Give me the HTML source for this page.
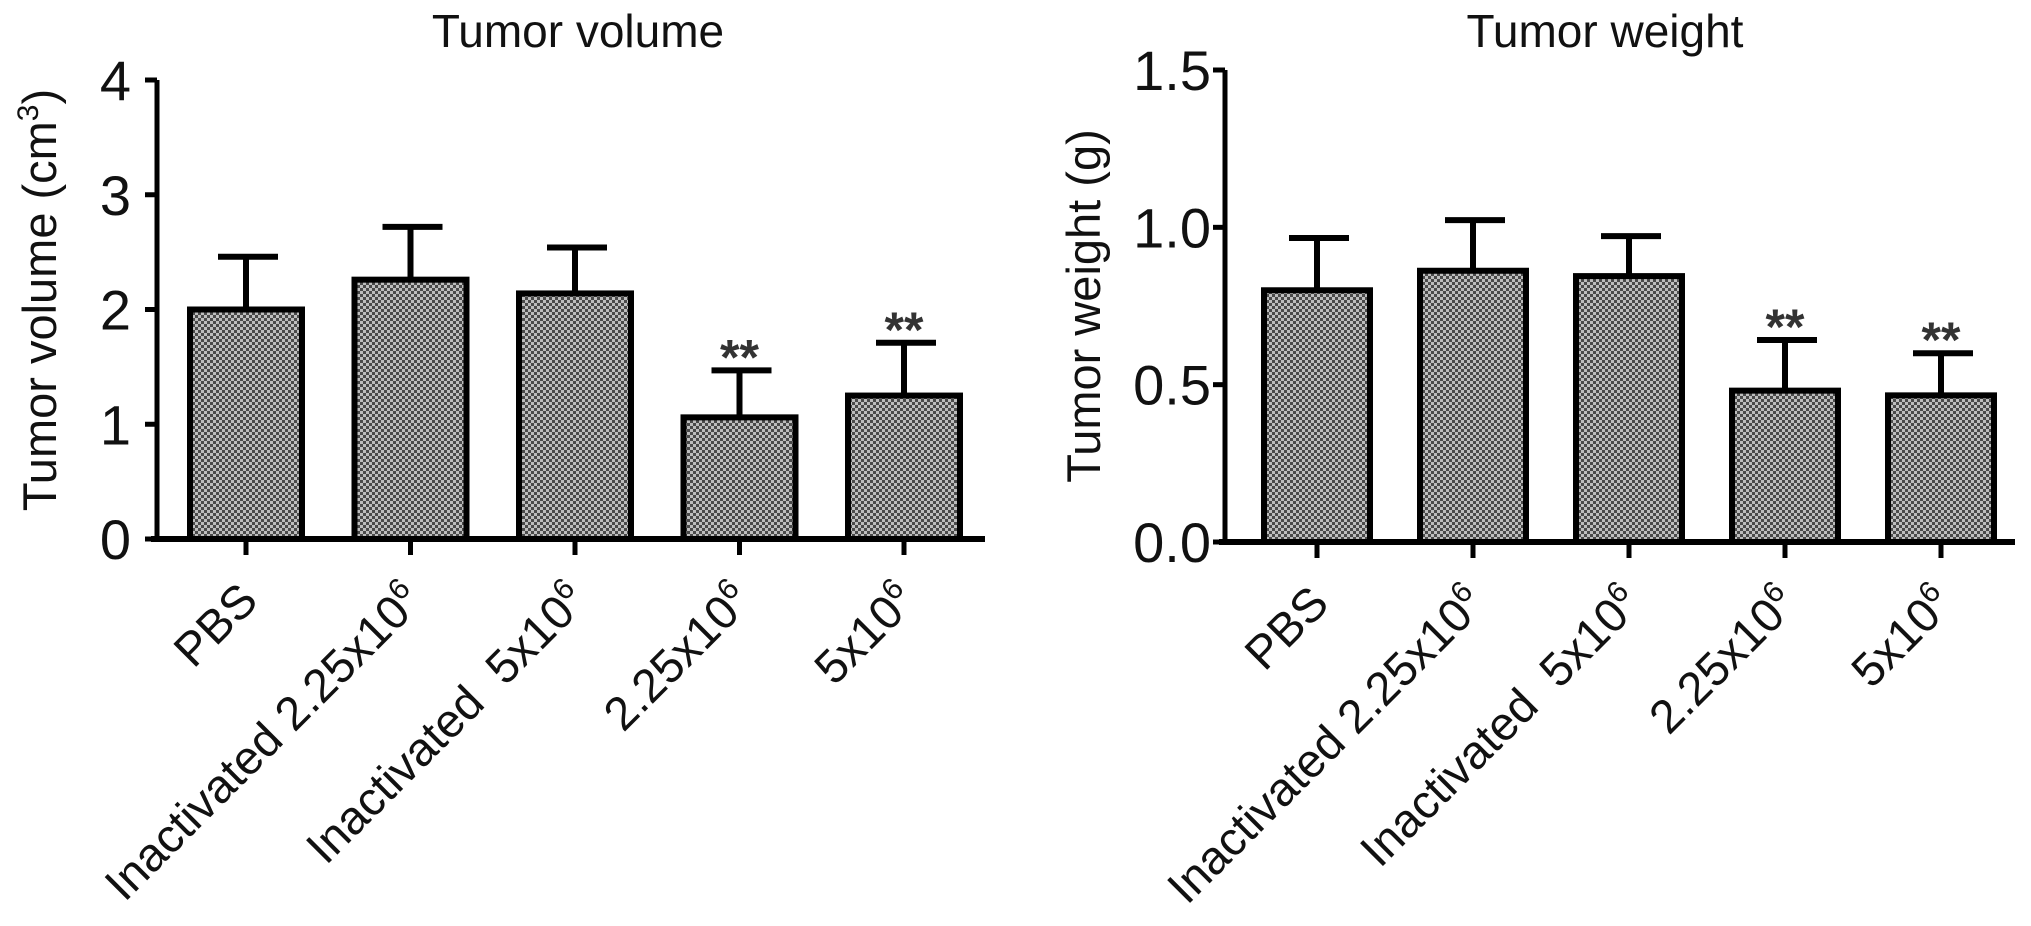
<!DOCTYPE html>
<html><head><meta charset="utf-8"><style>
html,body{margin:0;padding:0;background:#fff;}
svg{display:block;font-family:"Liberation Sans",Arial,sans-serif;}
text{white-space:pre;}
</style></head><body>
<svg id="c" width="2031" height="926" viewBox="0 0 2031 926">
<defs>
<pattern id="dots" width="6" height="6" patternUnits="userSpaceOnUse">
<rect width="6" height="6" fill="#bdbdbd"/>
<rect width="3" height="3" fill="#4a4a4a"/>
<rect x="3" y="3" width="3" height="3" fill="#4a4a4a"/>
</pattern>
</defs>
</svg>
<script>
const categories = ["PBS","Inactivated 2.25x10|6","Inactivated  5x10|6","2.25x10|6","5x10|6"];
const volumeMeans = [2.0, 2.26, 2.14, 1.06, 1.25];
const volumeErr = [2.46, 2.72, 2.54, 1.47, 1.71];
const volumeSig = ["","","","**","**"];
const volumeTicks = [0,1,2,3,4];
const volumeTickLabels = ["0","1","2","3","4"];
const weightMeans = [0.80, 0.862, 0.845, 0.481, 0.466];
const weightErr = [0.966, 1.023, 0.972, 0.642, 0.60];
const weightSig = ["","","","**","**"];
const weightTicks = [0,0.5,1.0,1.5];
const weightTickLabels = ["0.0","0.5","1.0","1.5"];

const NS="http://www.w3.org/2000/svg";
const svg=document.getElementById('c');
function mk(tag,attrs,parent){const e=document.createElementNS(NS,tag);for(const k in attrs)e.setAttribute(k,attrs[k]);(parent||svg).appendChild(e);return e;}

function chart(cfg){
  const g=mk('g',{});
  
  
  const y=v=>cfg.y0-(v-cfg.vmin)/(cfg.vmax-cfg.vmin)*(cfg.y0-cfg.y1);
  const x=i=>cfg.x0+i*cfg.step;
  const t=mk('text',{x:cfg.titleX,y:47,'font-size':46,'text-anchor':'middle',fill:'#111'},g);
  t.textContent=cfg.title;
  
  
  const yt=mk('text',{x:0,y:0,'font-size':47,'text-anchor':'middle',fill:'#111',transform:`translate(${cfg.ytX},${cfg.ytY}) rotate(-90)`},g);
  yt.innerHTML=cfg.ytitle;
  
  
  cfg.means.forEach((m,i)=>{
    const cx=x(i);
    const el=mk('line',{x1:cx,x2:cx,y1:y(m),y2:y(cfg.err[i]),stroke:'#000','stroke-width':6},g);
    
    
    const cap=mk('line',{x1:cx-28,x2:cx+32,y1:y(cfg.err[i]),y2:y(cfg.err[i]),stroke:'#000','stroke-width':6},g);
    
    
    const r=mk('rect',{x:cx-cfg.bw/2,y:y(m),width:cfg.bw,height:y(0)-y(m),fill:'url(#dots)',stroke:'#000','stroke-width':6},g);
    
    
    if(cfg.sig[i]){
      const s=mk('text',{x:cx,y:y(cfg.err[i])+4,'font-size':50,'font-weight':'bold','text-anchor':'middle',fill:'#333'},g);
      s.textContent=cfg.sig[i];
      
      
    }
    const tk=mk('line',{x1:cx,x2:cx,y1:y(0),y2:y(0)+16,stroke:'#000','stroke-width':5},g);
    
    
    const parts=categories[i].split('|');
    const lab=mk('text',{x:0,y:0,'font-size':47,'text-anchor':'end',fill:'#111',transform:`translate(${cx+14},${y(0)+64}) rotate(-45)`},g);
    
    
    const a=document.createElementNS(NS,'tspan');a.textContent=parts[0];lab.appendChild(a);
    if(parts[1]){const b=document.createElementNS(NS,'tspan');b.setAttribute('dy','-18');b.setAttribute('font-size','30');b.textContent=parts[1];lab.appendChild(b);}
  });
  const ya=mk('line',{x1:cfg.ax,x2:cfg.ax,y1:y(cfg.vmax),y2:y(0)+2,stroke:'#000','stroke-width':5},g);
  
  
  const xa=mk('line',{x1:cfg.ax-6,x2:cfg.xEnd,y1:y(0),y2:y(0),stroke:'#000','stroke-width':6},g);
  
  
  cfg.ticks.forEach((v,i)=>{
    const l=mk('line',{x1:cfg.ax-12,x2:cfg.ax,y1:y(v),y2:y(v),stroke:'#000','stroke-width':5},g);
    
    
    const tl=mk('text',{x:cfg.ax-cfg.labGap,y:y(v)+20,'font-size':56,'text-anchor':'end',fill:'#111'},g);
    tl.textContent=cfg.tickLabels[i];
    
    
  });
}
chart({name:'tumor-volume-chart',title:'Tumor volume',titleX:578,ytitle:'Tumor volume (cm<tspan dy="-18" font-size="30">3</tspan><tspan dy="18">)</tspan>',ytX:56,ytY:300,
  means:volumeMeans,err:volumeErr,sig:volumeSig,ticks:volumeTicks,tickLabels:volumeTickLabels,
  vmin:0,vmax:4,y0:539,y1:80,ax:157,x0:246,step:164.5,bw:112,xEnd:985,labGap:26});
chart({name:'tumor-weight-chart',title:'Tumor weight',titleX:1605,ytitle:'Tumor weight (g)',ytX:1100,ytY:306,
  means:weightMeans,err:weightErr,sig:weightSig,ticks:weightTicks,tickLabels:weightTickLabels,
  vmin:0,vmax:1.5,y0:542,y1:70,ax:1225,x0:1317,step:156,bw:106,xEnd:2015,labGap:14});
</script>
</body></html>
